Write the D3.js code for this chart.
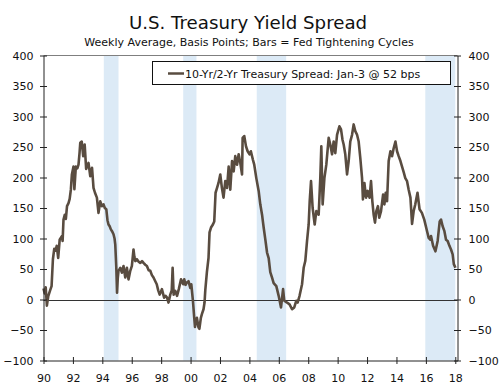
<!DOCTYPE html>
<html>
<head>
<meta charset="utf-8">
<script src="https://cdn.jsdelivr.net/npm/d3@7/dist/d3.min.js"></script>
<style>
  body { margin: 0; background: #fff; }
  svg text { font-family: "DejaVu Sans", Verdana, sans-serif; fill: #111; }
</style>
</head>
<body>
<svg id="spreadChart" width="500" height="388"></svg>
<script>
// weekly spread, sampled off the chart (decimal year, bps)
var dates = [
  1990.00, 1990.08, 1990.15, 1990.23, 1990.32, 1990.45, 1990.55, 1990.64, 1990.73, 1990.82,
  1990.90, 1991.00, 1991.10, 1991.25, 1991.30, 1991.36, 1991.45, 1991.52, 1991.60, 1991.70,
  1991.78, 1991.86, 1991.93, 1992.04, 1992.10, 1992.20, 1992.30, 1992.38, 1992.45, 1992.50,
  1992.60, 1992.70, 1992.80, 1992.90, 1993.06, 1993.18, 1993.30, 1993.40, 1993.50, 1993.63,
  1993.74, 1993.86, 1993.97, 1994.08, 1994.17, 1994.27, 1994.35, 1994.42, 1994.50, 1994.58,
  1994.66, 1994.76, 1994.83, 1994.88, 1994.95, 1995.00, 1995.05, 1995.10, 1995.22, 1995.33,
  1995.44, 1995.56, 1995.67, 1995.78, 1995.90, 1996.01, 1996.12, 1996.18, 1996.24, 1996.35,
  1996.47, 1996.58, 1996.70, 1996.80, 1996.92, 1997.03, 1997.15, 1997.26, 1997.37, 1997.48,
  1997.60, 1997.70, 1997.80, 1997.90, 1998.05, 1998.20, 1998.30, 1998.40, 1998.50, 1998.62,
  1998.72, 1998.78, 1998.85, 1998.96, 1999.08, 1999.20, 1999.35, 1999.50, 1999.57, 1999.66,
  1999.75, 1999.86, 1999.98, 2000.05, 2000.16, 2000.25, 2000.30, 2000.38, 2000.43, 2000.54,
  2000.60, 2000.70, 2000.77, 2000.88, 2000.95, 2001.00, 2001.11, 2001.22, 2001.29, 2001.39,
  2001.52, 2001.61, 2001.70, 2001.80, 2001.90, 2002.02, 2002.13, 2002.24, 2002.36, 2002.48,
  2002.59, 2002.70, 2002.82, 2002.93, 2003.04, 2003.16, 2003.27, 2003.38, 2003.50, 2003.54,
  2003.65, 2003.77, 2003.88, 2004.01, 2004.10, 2004.24, 2004.33, 2004.47, 2004.63, 2004.74,
  2004.86, 2004.97, 2005.08, 2005.20, 2005.31, 2005.42, 2005.54, 2005.65, 2005.83, 2005.99,
  2006.15, 2006.29, 2006.37, 2006.56, 2006.73, 2006.90, 2007.05, 2007.19, 2007.28, 2007.41,
  2007.58, 2007.69, 2007.80, 2007.92, 2008.03, 2008.10, 2008.19, 2008.30, 2008.44, 2008.55,
  2008.71, 2008.82, 2008.89, 2008.98, 2009.10, 2009.23, 2009.39, 2009.50, 2009.62, 2009.73,
  2009.84, 2009.96, 2010.12, 2010.23, 2010.33, 2010.41, 2010.52, 2010.64, 2010.75, 2010.86,
  2010.98, 2011.09, 2011.20, 2011.32, 2011.43, 2011.54, 2011.66, 2011.72, 2011.82, 2011.93,
  2012.04, 2012.17, 2012.27, 2012.36, 2012.45, 2012.54, 2012.63, 2012.74, 2012.83, 2012.95,
  2013.09, 2013.18, 2013.27, 2013.36, 2013.47, 2013.59, 2013.70, 2013.81, 2013.93, 2014.04,
  2014.15, 2014.27, 2014.38, 2014.50, 2014.60, 2014.72, 2014.83, 2014.95, 2015.06, 2015.17,
  2015.28, 2015.43, 2015.57, 2015.73, 2015.89, 2016.08, 2016.19, 2016.30, 2016.35, 2016.49,
  2016.65, 2016.80, 2016.94, 2017.03, 2017.14, 2017.26, 2017.37, 2017.48, 2017.60, 2017.71,
  2017.82, 2017.90, 2018.01
]
var spread = [
  18, 10, 20, -10, 5, 15, 22, 66, 83, 80,
  88, 68, 98, 104, 96, 131, 139, 132, 153, 158,
  165, 180, 205, 218, 181, 218, 215, 221, 240, 257,
  259, 235, 254, 214, 224, 202, 216, 183, 175, 167,
  142, 161, 153, 156, 150, 148, 130, 123, 120, 115,
  112, 107, 100, 90, 52, 11, 35, 47, 52, 44,
  55, 36, 52, 33, 47, 55, 82, 70, 63, 66,
  62, 60, 63, 60, 57, 55, 48, 47, 40, 36,
  30, 25, 15, 8, 17, 3, 6, 3, -5, 8,
  15, 52, 8, 14, 6, 17, 33, 25, 33, 24,
  28, 30, 19, 25, -2, -30, -45, -35, -30, -46,
  -48, -30, -24, -16, -5, 15, 45, 68, 110, 118,
  123, 128, 175, 183, 191, 205, 183, 167, 194, 183,
  218, 180, 227, 210, 235, 221, 238, 224, 205, 265,
  268, 251, 243, 238, 243, 229, 221, 199, 178, 156,
  139, 118, 99, 77, 68, 45, 36, 27, 22, 6,
  -13, 17, -2, -5, -8, -16, -13, -2, -5, 6,
  25, 52, 63, 96, 123, 161, 194, 150, 123, 145,
  139, 199, 251, 156, 199, 221, 265, 254, 238, 259,
  240, 270, 284, 279, 262, 254, 238, 205, 227, 259,
  270, 287, 276, 270, 259, 232, 199, 164, 191, 167,
  178, 167, 194, 161, 139, 126, 145, 153, 134, 145,
  172, 156, 175, 161, 227, 243, 235, 248, 259, 243,
  235, 227, 218, 208, 199, 194, 180, 167, 124, 145,
  156, 175, 148, 142, 131, 112, 101, 98, 104, 88,
  79, 96, 128, 131, 120, 112, 98, 96, 88, 82,
  74, 58, 52
]
// fed tightening cycles
var cycleStart = [1994.1, 1999.5, 2004.5, 2015.96]
var cycleEnd = [1995.1, 2000.4, 2006.5, 2018.0]
var yTicks = [-100, -50, 0, 50, 100, 150, 200, 250, 300, 350, 400]
var xTicks = [1990, 1992, 1994, 1996, 1998, 2000, 2002, 2004, 2006, 2008, 2010, 2012, 2014, 2016, 2018]

var svg = d3.select("#spreadChart"),
    plotL = 43.5, plotR = 457.5, plotT = 55.5, plotB = 360.5

var x = d3.scaleLinear().domain([1990, 2018.15]).range([plotL, plotR])
var y = d3.scaleLinear().domain([-100, 400]).range([plotB, plotT])

svg.append("text")
  .attr("x", 248).attr("y", 29)
  .attr("text-anchor", "middle")
  .attr("font-size", "18.2px")
  .text("U.S. Treasury Yield Spread")

svg.append("text")
  .attr("x", 249).attr("y", 45.5)
  .attr("text-anchor", "middle")
  .attr("font-size", "11px")
  .text("Weekly Average, Basis Points; Bars = Fed Tightening Cycles")

// shaded cycles
svg.selectAll(".cycle")
  .data(cycleStart)
  .enter().append("rect")
  .attr("class", "cycle")
  .attr("x", (d) => x(d))
  .attr("y", plotT)
  .attr("width", (d, i) => x(cycleEnd[i]) - x(d))
  .attr("height", plotB - plotT)
  .attr("fill", "#dceaf6")

// top border
svg.append("line")
  .attr("x1", plotL).attr("x2", plotR)
  .attr("y1", plotT).attr("y2", plotT)
  .attr("stroke", "#7f7f7f")

// zero line
svg.append("line")
  .attr("x1", plotL).attr("x2", plotR)
  .attr("y1", Math.round(y(0)) + 0.5).attr("y2", Math.round(y(0)) + 0.5)
  .attr("stroke", "#333")

var line = d3.line()
  .x((d, i) => x(dates[i]))
  .y((d) => y(d))

svg.append("path")
  .datum(spread)
  .attr("d", line)
  .attr("fill", "none")
  .attr("stroke", "#594c40")
  .attr("stroke-width", 2.6)
  .attr("stroke-linejoin", "round")

function styleAxis(g) {
  g.select(".domain").attr("stroke", "#222")
  g.selectAll(".tick line").attr("stroke", "#222")
  g.selectAll(".tick text").attr("font-size", "11px").attr("fill", "#111")
    .attr("font-family", "DejaVu Sans, Verdana, sans-serif")
}

svg.append("g")
  .attr("transform", "translate(" + plotL + ",0)")
  .call(d3.axisLeft(y).tickValues(yTicks).tickSize(7).tickSizeOuter(0).tickPadding(3))
  .call(styleAxis)
  .selectAll(".tick line").attr("x1", 3.5).attr("x2", -3.5)

svg.append("g")
  .attr("transform", "translate(" + plotR + ",0)")
  .call(d3.axisRight(y).tickValues(yTicks).tickSize(7).tickSizeOuter(0).tickPadding(4))
  .call(styleAxis)
  .selectAll(".tick line").attr("x1", -3.5).attr("x2", 3.5)

svg.append("g")
  .attr("transform", "translate(0," + plotB + ")")
  .call(d3.axisBottom(x).tickValues(xTicks).tickSize(7).tickSizeOuter(0).tickPadding(7)
    .tickFormat((d) => String(d % 100).padStart(2, "0")))
  .call(styleAxis)
  .selectAll(".tick line").attr("y1", -3.5).attr("y2", 3.5)

// legend
var lg = svg.append("g")
lg.append("rect")
  .attr("x", 152.5).attr("y", 61.5)
  .attr("width", 298).attr("height", 23)
  .attr("fill", "#fff").attr("stroke", "#111")
lg.append("line")
  .attr("x1", 168).attr("x2", 184)
  .attr("y1", 73.5).attr("y2", 73.5)
  .attr("stroke", "#594c40").attr("stroke-width", 2.5)
lg.append("text")
  .attr("x", 185).attr("y", 77.5)
  .attr("font-size", "11px")
  .text("10-Yr/2-Yr Treasury Spread: Jan-3 @ 52 bps")
</script>
</body>
</html>
